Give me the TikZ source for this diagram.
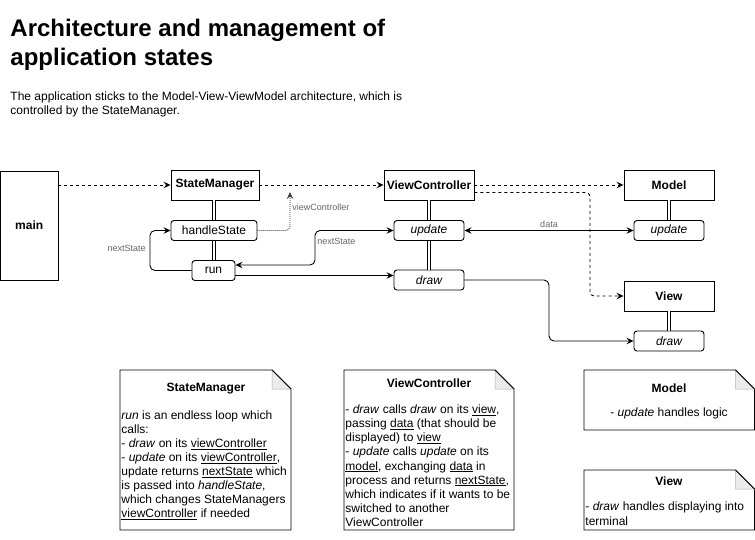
\documentclass[tikz,border=0pt]{standalone}
\usepackage{fontspec}
\setmainfont{Liberation Sans}
\usetikzlibrary{arrows.meta,calc}
\newcommand{\mynote}[4]{%
  \filldraw[fill=white] (#1,#2) -- (#3-19,#2) -- (#3,#2+19) -- (#3,#4) -- (#1,#4) -- cycle;
  \filldraw[fill=black!8, draw=black!30, line width=0.5pt] (#3-19,#2) -- (#3-19,#2+19) -- (#3,#2+19) -- cycle;
  \draw (#3-19,#2) -- (#3,#2+19);
}
\begin{document}
\begin{tikzpicture}[x=1pt,y=-1pt, line width=0.9pt,
  >={Stealth[length=7pt,width=6.5pt,inset=2.5pt]},
  every node/.style={font=\fontsize{12}{14}\selectfont, inner sep=0pt},
  bigbox/.style={draw, minimum width=#1, minimum height=30pt, font=\fontsize{12}{14}\selectfont\bfseries},
  smallbox/.style={draw, rounded corners=3pt, minimum width=#1, minimum height=20pt},
  lbl/.style={font=\fontsize{9}{11}\selectfont, text=black!60},
  link/.style={double, double distance=2pt, line width=0.8pt},
  notebody/.style={anchor=north west, align=left, font=\fontsize{12}{14.1}\selectfont},
  notetitle/.style={font=\fontsize{12}{14}\selectfont\bfseries}
]
\fill[white] (0,0) rectangle (755,539);
\useasboundingbox (0,0) rectangle (755,539);

% title
\node[anchor=base west, font=\fontsize{24}{29}\selectfont\bfseries] (t1) at (10,36.5) {Architecture and management of};
\node[anchor=base west, font=\fontsize{24}{29}\selectfont\bfseries] (t2) at (10,65) {application states};
\node[anchor=base west] (s1) at (10,100) {The application sticks to the Model-View-ViewModel architecture, which is};
\node[anchor=base west] (s2) at (10,114) {controlled by the StateManager.};

% boxes
\node[draw, minimum width=57.5pt, minimum height=109pt, font=\fontsize{12}{14}\selectfont\bfseries] (main) at (29.25,225.5) {main};
\node[bigbox=88pt] (sm) at (215,185) {StateManager};
\node[smallbox=86pt] (hs) at (214,230.5) {handleState};
\node[smallbox=43pt] (run) at (213.5,270.5) {run};
\node[bigbox=90pt] (vc) at (429,185) {ViewController};
\node[smallbox=70pt] (vupd) at (429,230.5) {\itshape update};
\node[smallbox=70pt] (vdraw) at (429,280) {\itshape draw};
\node[bigbox=90pt] (model) at (669,185) {Model};
\node[smallbox=70pt] (mupd) at (669,230.5) {\itshape update};
\node[bigbox=90pt] (view) at (669,296) {View};
\node[smallbox=70pt] (wdraw) at (669,341) {\itshape draw};

% composition links
\draw[link] (hs.north) -- (hs.north |- sm.south);
\draw[link] (hs.south) -- (hs.south |- run.north);
\draw[link] (vc.south) -- (vupd.north);
\draw[link] (vupd.south) -- (vdraw.north);
\draw[link] (model.south) -- (mupd.north);
\draw[link] (view.south) -- (wdraw.north);

% dashed ownership arrows
\draw[dashed,->] (main.east |- sm.west) -- (sm.west);
\draw[dashed,->] (sm.east) -- (vc.west);
\draw[dashed,->] (vc.east) -- (model.west);
\coordinate (vvbend) at (590,250);
\draw[dashed,->,rounded corners=4pt] ([yshift=-7.5pt]vc.east) -| (vvbend) |- (view.west);

% handleState -> viewController
\coordinate (vctip) at (290,192);
\draw[dash pattern=on 1pt off 1pt, draw=black!75, line width=0.8pt, ->, rounded corners=4pt] (hs.east) -| (vctip);
\node[lbl, anchor=west] (lvc) at (292,207) {viewController};

% nextState loop
\coordinate (loopl) at (150,250);
\draw[->, rounded corners=5pt] (run.west) -| (loopl) |- (hs.west);
\node[lbl, anchor=east] (lns1) at (146,248) {nextState};

% run <-> update
\coordinate (rub) at (315,250);
\draw[<->, rounded corners=5pt] ([yshift=5.5pt]run.east) -| (rub) |- (vupd.west);
\node[lbl, anchor=west] (lns2) at (317,241) {nextState};

% run -> draw
\draw[->] ([yshift=-5pt]run.east) -- ([yshift=4.5pt]vdraw.west);

% data
\draw[<->] (vupd.east) -- (mupd.west) node[lbl, midway, above=2.5pt] (ldata) {data};

% draw -> view draw
\coordinate (dvb) at (549,310);
\draw[->, rounded corners=5pt] (vdraw.east) -| (dvb) |- (wdraw.west);

% notes
\mynote{120}{370}{291}{530}
\mynote{344}{370}{514}{530}
\mynote{584}{370}{754.5}{430}
\mynote{584}{470}{754.5}{530}

\node[notetitle] (n1t) at (206,389) {StateManager};
\node[notebody] (n1b) at (121,410) {\textit{run} is an endless loop which\\
calls:\\
- \textit{draw} on its \underline{viewController}\\
- \textit{update} on its \underline{viewController},\\
update returns \underline{nextState} which\\
is passed into \textit{handleState},\\
which changes StateManagers\\
\underline{viewController} if needed};

\node[notetitle] (n2t) at (429,383) {ViewController};
\node[notebody] (n2b) at (345,404.5) {- \textit{draw} calls \textit{draw} on its \underline{view},\\
passing \underline{data} (that should be\\
displayed) to \underline{view}\\
- \textit{update} calls \textit{update} on its\\
\underline{model}, exchanging \underline{data} in\\
process and returns \underline{nextState},\\
which indicates if it wants to be\\
switched to another\\
ViewController};

\node[notetitle] (n3t) at (669,388) {Model};
\node (n3b) at (669,413) {- \textit{update} handles logic};

\node[notetitle] (n4t) at (669,481) {View};
\node[notebody, font=\fontsize{12}{15}\selectfont] (n4b) at (585,501) {- \textit{draw} handles displaying into\\
terminal};
\end{tikzpicture}
\end{document}
